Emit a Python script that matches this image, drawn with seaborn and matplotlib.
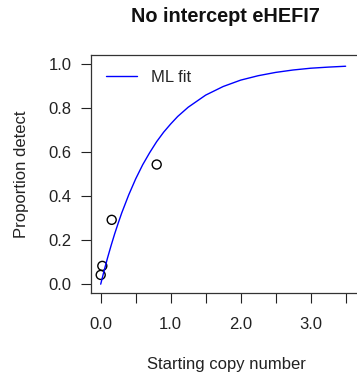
import numpy as np
import pandas as pd
import matplotlib
matplotlib.use("Agg")
import matplotlib.pyplot as plt
import seaborn as sns

# observed proportions
copy_number = [0.0, 0.023, 0.157, 0.80]
prop_detect = [0.042, 0.083, 0.292, 0.543]

# ML fit curve
fit_x = [0.0, 0.05, 0.1, 0.15, 0.2, 0.25, 0.3, 0.4, 0.5, 0.6, 0.7, 0.8, 0.9, 1.0,
         1.1, 1.25, 1.5, 1.75, 2.0, 2.25, 2.5, 2.75, 3.0, 3.25, 3.5]
fit_y = [0.0, 0.063, 0.122, 0.177, 0.229, 0.277, 0.323, 0.405, 0.478, 0.542, 0.597,
         0.647, 0.690, 0.727, 0.761, 0.803, 0.858, 0.897, 0.926, 0.946, 0.961,
         0.972, 0.980, 0.985, 0.989]

x_ticks = [0.0, 0.5, 1.0, 1.5, 2.0, 2.5, 3.0, 3.5]
x_ticklabels = ["0.0", "", "1.0", "", "2.0", "", "3.0", ""]
y_ticks = [0.0, 0.2, 0.4, 0.6, 0.8, 1.0]
y_ticklabels = ["0.0", "0.2", "0.4", "0.6", "0.8", "1.0"]

sns.set_style("ticks")
plt.rcParams['font.family'] = ['Liberation Sans', 'DejaVu Sans']

W, H = 357, 379
dpi = 100
fig = plt.figure(figsize=(W / dpi, H / dpi), dpi=dpi)
L, R, T, B = 90.7, 360.6, 55.0, 293.0
ax = fig.add_axes([L / W, 1 - B / H, (R - L) / W, (B - T) / H])

pts = pd.DataFrame({"x": copy_number, "y": prop_detect})
fit = pd.DataFrame({"x": fit_x, "y": fit_y})

sns.lineplot(data=fit, x="x", y="y", ax=ax, color="blue", linewidth=1.0,
             label="ML fit", sort=False)
sns.scatterplot(data=pts, x="x", y="y", ax=ax, s=42, facecolor="none",
                edgecolor="black", linewidth=1.0, marker="o", legend=False)

ax.set_xlim(-0.143, 3.714)
ax.set_ylim(-0.04, 1.04)
ax.set_xticks(x_ticks)
ax.set_xticklabels(x_ticklabels)
ax.set_yticks(y_ticks)
ax.set_yticklabels(y_ticklabels)
ax.tick_params(axis="both", labelsize=12, length=7, width=0.8, color="#222222",
               labelcolor="#222222")
ax.tick_params(axis="x", pad=10)
ax.tick_params(axis="y", pad=7)
for s in ax.spines.values():
    s.set_visible(True)
    s.set_linewidth(0.9)
    s.set_color("#333333")
ax.set_xlabel("")
ax.set_ylabel("")

leg = ax.legend(loc="upper left", frameon=False, fontsize=12, handlelength=1.9,
                bbox_to_anchor=(0.0, 1.0), borderaxespad=0.5, handletextpad=0.8)

fig.text(225.6 / W, 1 - 16 / H, "No intercept eHEFI7", ha="center", va="center",
         fontsize=14.3, fontweight="bold", color="#111111")
fig.text(226 / W, 1 - 365 / H, "Starting copy number", ha="center", va="center",
         fontsize=12, color="#222222")
fig.text(22 / W, 1 - 174 / H, "Proportion detect", ha="center", va="center",
         rotation=90, fontsize=12, color="#222222")

fig.savefig("out.png", dpi=dpi)
